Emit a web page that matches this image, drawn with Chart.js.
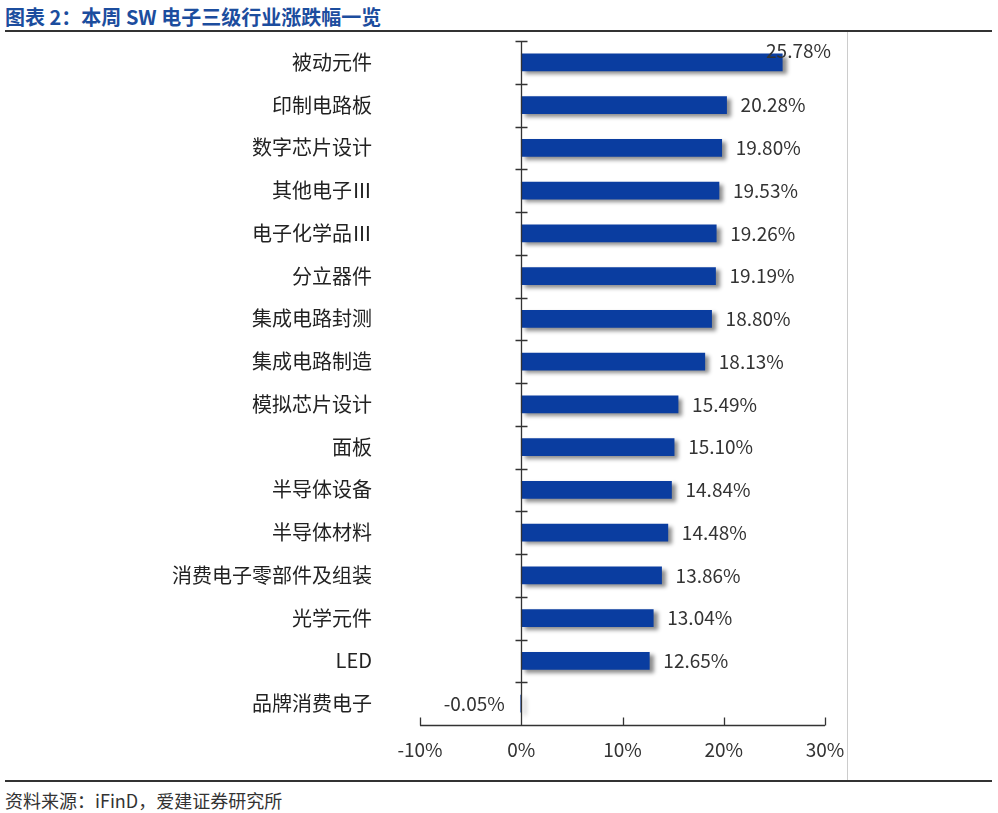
<!DOCTYPE html>
<html>
<head>
<meta charset="utf-8">
<script src="https://cdn.jsdelivr.net/npm/chart.js@4.4.1/dist/chart.umd.min.js"></script>
<style>
  body { margin: 0; background: #fff; font-family: "Noto Sans CJK SC", sans-serif; }
  #wrap { position: relative; width: 998px; height: 813px; overflow: hidden; }
  #title { position: absolute; left: 5px; top: 2px; font-size: 20px; font-weight: bold; color: #1c4d9e; white-space: nowrap; }
  .hline { position: absolute; left: 5px; width: 987px; height: 2px; background: #333; }
  #vline { position: absolute; left: 847px; top: 32px; width: 1px; height: 749px; background: #ccc; }
  #source { position: absolute; left: 5px; top: 787px; font-size: 18px; color: #333; white-space: nowrap; }
  canvas { position: absolute; left: 0; top: 0; }
</style>
</head>
<body>
<div id="wrap">
  <div id="title">图表 2：本周 SW 电子三级行业涨跌幅一览</div>
  <div class="hline" style="top:30px"></div>
  <div id="vline"></div>
  <div class="hline" style="top:780px"></div>
  <div id="source">资料来源：iFinD，爱建证券研究所</div>
  <canvas id="chart" width="998" height="813"></canvas>
</div>
<script>
// categories and weekly change (%)
const categories = ['被动元件', '印制电路板', '数字芯片设计', '其他电子Ⅲ', '电子化学品Ⅲ', '分立器件',
  '集成电路封测', '集成电路制造', '模拟芯片设计', '面板', '半导体设备', '半导体材料',
  '消费电子零部件及组装', '光学元件', 'LED', '品牌消费电子'];
const changes = [25.78, 20.28, 19.80, 19.53, 19.26, 19.19, 18.80, 18.13, 15.49, 15.10, 14.84, 14.48,
  13.86, 13.04, 12.65, -0.05];
const xTicks = [-10, 0, 10, 20, 30];

const barColor = '#0a3da0';

// soft drop shadow behind the bars
const barShadow = {
  id: 'barShadow',
  beforeDatasetsDraw(chart) {
    const ctx = chart.ctx;
    ctx.save();
    ctx.shadowColor = 'rgba(0,0,0,0.45)';
    ctx.shadowBlur = 4;
    ctx.shadowOffsetX = 4;
    ctx.shadowOffsetY = 3;
  },
  afterDatasetsDraw(chart) {
    chart.ctx.restore();
  }
};

// axis lines with tick marks like the original excel chart
const axisLines = {
  id: 'axisLines',
  afterDatasetsDraw(chart) {
    const { ctx, chartArea, scales: { x, y } } = chart;
    ctx.save();
    ctx.strokeStyle = '#333';
    ctx.lineWidth = 1.3;
    const x0 = Math.round(x.getPixelForValue(0)) + 0.5;
    ctx.beginPath();
    ctx.moveTo(x0, chartArea.top);
    ctx.lineTo(x0, chartArea.bottom);
    const step = y.getPixelForValue(1) - y.getPixelForValue(0);
    categories.forEach((c, i) => {
      const ty = Math.round(y.getPixelForValue(i) - step / 2) + 0.5;
      ctx.moveTo(x0 - 6, ty);
      ctx.lineTo(x0 + 6, ty);
    });
    const yb = Math.round(chartArea.bottom) + 0.5;
    ctx.moveTo(x.getPixelForValue(xTicks[0]), yb);
    ctx.lineTo(x.getPixelForValue(xTicks[xTicks.length - 1]), yb);
    xTicks.forEach(v => {
      const tx = Math.round(x.getPixelForValue(v)) + 0.5;
      ctx.moveTo(tx, yb);
      ctx.lineTo(tx, yb - 8);
    });
    ctx.stroke();
    ctx.restore();
  }
};

// value labels at the bar ends
const valueLabels = {
  id: 'valueLabels',
  afterDatasetsDraw(chart) {
    const { ctx, chartArea } = chart;
    const meta = chart.getDatasetMeta(0);
    ctx.save();
    ctx.font = '19px "Noto Sans CJK SC", sans-serif';
    ctx.fillStyle = '#333';
    ctx.textBaseline = 'middle';
    meta.data.forEach((bar, i) => {
      const v = changes[i];
      const txt = v.toFixed(2) + '%';
      let px = bar.x, py = bar.y;
      if (v >= 0) {
        ctx.textAlign = 'left';
        px += 14;
        const w = ctx.measureText(txt).width;
        if (px + w > chartArea.right + 6) {
          px = chartArea.right + 6 - w;
          py -= 12;
        }
      } else {
        ctx.textAlign = 'right';
        px -= 16;
      }
      ctx.fillText(txt, px, py);
    });
    ctx.restore();
  }
};

new Chart(document.getElementById('chart'), {
  type: 'bar',
  data: {
    labels: categories,
    datasets: [{
      data: changes,
      backgroundColor: barColor,
      borderWidth: 0,
      barThickness: 17
    }]
  },
  options: {
    indexAxis: 'y',
    responsive: false,
    animation: false,
    devicePixelRatio: 1,
    layout: { padding: { top: 41, right: 173, left: 0, bottom: 0 } },
    plugins: {
      legend: { display: false },
      tooltip: { enabled: false }
    },
    scales: {
      x: {
        type: 'linear',
        min: -10,
        max: 30,
        grid: { display: false },
        border: { display: false },
        afterBuildTicks(scale) {
          scale.ticks = xTicks.map(v => ({ value: v }));
        },
        afterFit(scale) { scale.height = 88; },
        ticks: {
          padding: 5,
          color: '#333',
          font: { size: 19, family: '"Noto Sans CJK SC", sans-serif' },
          callback: v => v + '%'
        }
      },
      y: {
        grid: { display: false },
        border: { display: false },
        afterFit(scale) {
          scale.width = 420;
          scale.paddingTop = 0;
          scale.paddingBottom = 0;
        },
        ticks: {
          padding: 40,
          color: '#222',
          font: { size: 20, family: '"Noto Sans CJK SC", sans-serif' }
        }
      }
    }
  },
  plugins: [barShadow, axisLines, valueLabels]
});
</script>
</body>
</html>
